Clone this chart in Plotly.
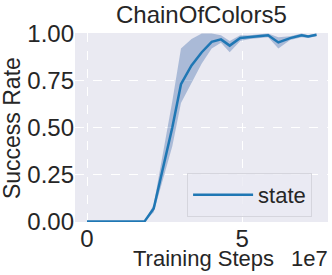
import plotly.graph_objects as go

# Data (x in training steps)
steps = [0, 1.85e7, 2.15e7, 2.45e7, 2.75e7, 3.03e7, 3.37e7, 3.7e7, 4.02e7, 4.32e7,
         4.6e7, 4.94e7, 5.25e7, 5.55e7, 5.84e7, 6.17e7, 6.55e7, 6.92e7, 7.13e7, 7.4e7]
mean = [0.0, 0.0, 0.07, 0.28, 0.50, 0.73, 0.83, 0.90, 0.955, 0.968,
        0.935, 0.975, 0.98, 0.985, 0.99, 0.952, 0.975, 0.99, 0.983, 0.993]
lower = [0.0, 0.0, 0.05, 0.22, 0.40, 0.63, 0.74, 0.84, 0.92, 0.95,
         0.90, 0.96, 0.97, 0.975, 0.98, 0.92, 0.965, 0.98, 0.975, 0.985]
upper = [0.0, 0.0, 0.09, 0.36, 0.64, 0.92, 0.97, 1.0, 1.0, 0.99,
         0.96, 0.99, 0.99, 0.995, 1.0, 0.98, 0.985, 1.0, 0.99, 1.0]

title = "ChainOfColors5"
series_name = "state"
xtick_vals = [0, 5e7]
xtick_text = ["0", "5"]
ytick_vals = [0, 0.25, 0.5, 0.75, 1.0]
ytick_text = ["0.00", "0.25", "0.50", "0.75", "1.00"]

FONT = "Liberation Sans, Arial, sans-serif"
TXT = "#262626"

fig = go.Figure()
fig.add_trace(go.Scatter(x=steps, y=upper, mode="lines", line=dict(width=0),
                         showlegend=False, hoverinfo="skip"))
fig.add_trace(go.Scatter(x=steps, y=lower, mode="lines", line=dict(width=0),
                         fill="tonexty", fillcolor="rgba(76,114,176,0.4)",
                         showlegend=False, hoverinfo="skip"))
fig.add_trace(go.Scatter(x=steps, y=mean, mode="lines", name=series_name,
                         line=dict(color="#1f77b4", width=2.5)))

fig.update_layout(
    width=332, height=275,
    margin=dict(l=75, r=4, t=33, b=53),
    paper_bgcolor="white", plot_bgcolor="#EAEAF2",
    font=dict(family=FONT, size=22, color=TXT),
    legend=dict(x=0.443, y=0.259, xanchor="left", yanchor="top",
                bgcolor="rgba(234,234,242,0.8)", bordercolor="#D5D5DD", borderwidth=1,
                itemwidth=60,
                font=dict(size=22, color=TXT)),
    annotations=[
        dict(text=title, x=0.5, y=1.10, xref="paper", yref="paper",
             xanchor="center", yanchor="middle", showarrow=False,
             font=dict(size=24, color=TXT)),
        dict(text="Success Rate", x=-0.249, y=0.497, xref="paper", yref="paper",
             xanchor="center", yanchor="middle", textangle=-90, showarrow=False,
             font=dict(size=23, color=TXT)),
        dict(text="Training Steps", x=0.506, y=-0.195, xref="paper", yref="paper",
             xanchor="center", yanchor="middle", showarrow=False,
             font=dict(size=22, color=TXT)),
        dict(text="1e7", x=0.925, y=-0.195, xref="paper", yref="paper",
             xanchor="center", yanchor="middle", showarrow=False,
             font=dict(size=22, color=TXT)),
    ],
)
fig.update_xaxes(range=[-0.387e7, 7.77e7], tickvals=xtick_vals, ticktext=xtick_text,
                 showgrid=True, gridcolor="white", gridwidth=1, griddash="dash",
                 zeroline=False, showline=False, ticks="", ticklabelstandoff=0,
                 tickfont=dict(size=24, color=TXT))
fig.update_yaxes(range=[-0.002, 1.002], tickvals=ytick_vals, ticktext=ytick_text,
                 showgrid=True, gridcolor="white", gridwidth=1, griddash="dash",
                 zeroline=False, showline=False, ticks="", ticklabelstandoff=0,
                 tickfont=dict(size=24, color=TXT))

fig.write_html("out.html", config={"displayModeBar": False},
               post_script="document.body.style.margin='0px';")
